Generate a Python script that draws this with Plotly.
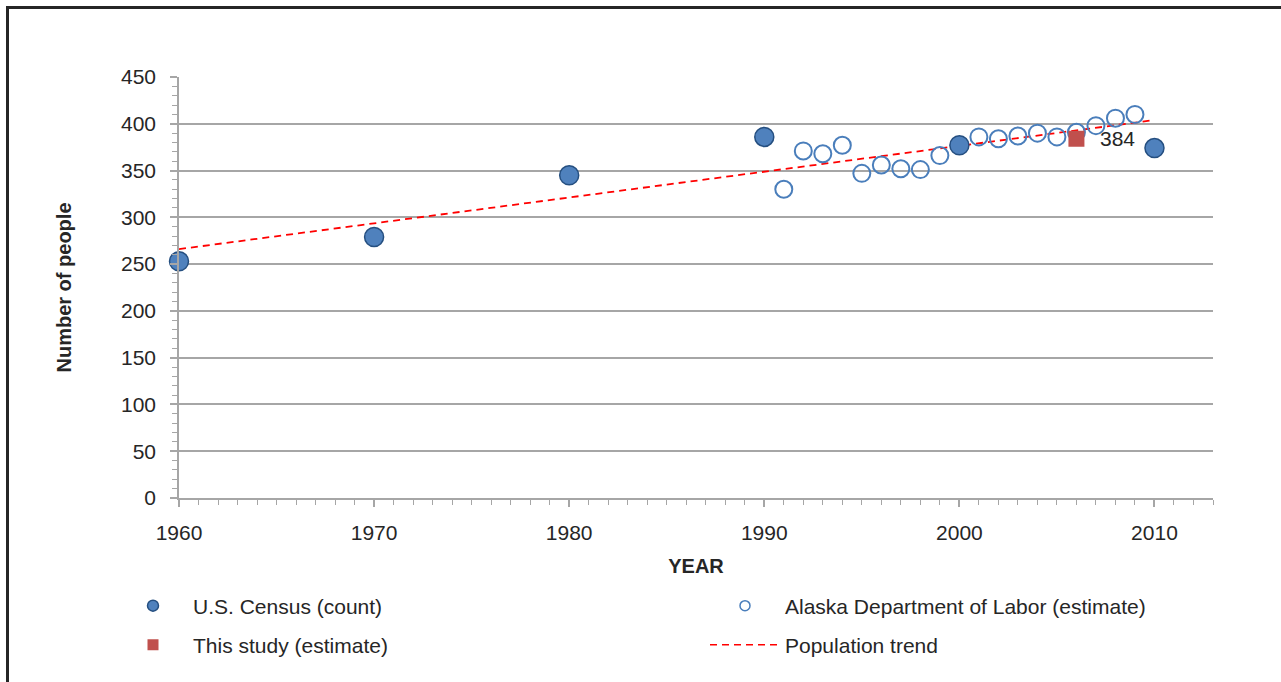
import plotly.graph_objects as go

# ---- data ----
census_years = [1960, 1970, 1980, 1990, 2000, 2010]
census_pop = [253, 279, 345, 386, 377, 374]

adol_years = [1991, 1992, 1993, 1994, 1995, 1996, 1997, 1998, 1999,
              2001, 2002, 2003, 2004, 2005, 2006, 2007, 2008, 2009]
adol_pop = [330, 371, 368, 377, 347, 356, 352, 351, 366,
            386, 384, 387, 390, 386, 391, 398, 406, 410]

study_years = [2006]
study_pop = [384]

trend_years = [1960, 2010]
trend_pop = [266, 404]

y_ticks = [0, 50, 100, 150, 200, 250, 300, 350, 400, 450]
x_ticks = [1960, 1970, 1980, 1990, 2000, 2010]

FONT = "Liberation Sans, Arial, sans-serif"
TXT = "#262626"
GRID = "#a6a6a6"
FS = 21

# plot-area geometry in pixels (for converting frame/legend positions)
L, R, T, B = 179, 1213, 77, 498
W, H = R - L, B - T
def px(x):
    return (x - L) / W
def py(y):
    return (B - y) / H

fig = go.Figure()

fig.add_trace(go.Scatter(
    x=trend_years, y=trend_pop, mode="lines",
    line=dict(color="#ff0000", width=1.8, dash="7px,5px"),
    showlegend=False, cliponaxis=False))

fig.add_trace(go.Scatter(
    x=adol_years, y=adol_pop, mode="markers",
    marker=dict(symbol="circle", size=17, color="rgba(255,255,255,0)",
                line=dict(color="#4a7ebb", width=2)),
    showlegend=False, cliponaxis=False))

fig.add_trace(go.Scatter(
    x=census_years, y=census_pop, mode="markers",
    marker=dict(symbol="circle", size=19, color="#4f81bd",
                line=dict(color="#254f80", width=1.5)),
    showlegend=False, cliponaxis=False))

fig.add_trace(go.Scatter(
    x=study_years, y=study_pop, mode="markers",
    marker=dict(symbol="square", size=16, color="#c0504d", line=dict(width=0)),
    showlegend=False, cliponaxis=False))

# legend-only entries (one legend per entry, laid out in a 2x2 grid)
fig.add_trace(go.Scatter(
    x=[None], y=[None], mode="markers", name="U.S. Census (count)",
    marker=dict(symbol="circle", size=11, color="#4f81bd",
                line=dict(color="#254f80", width=1.5)),
    legend="legend"))
fig.add_trace(go.Scatter(
    x=[None], y=[None], mode="markers", name="Alaska Department of Labor (estimate)",
    marker=dict(symbol="circle", size=10, color="white",
                line=dict(color="#4a7ebb", width=1.5)),
    legend="legend2"))
fig.add_trace(go.Scatter(
    x=[None], y=[None], mode="markers", name="This study (estimate)",
    marker=dict(symbol="square", size=11, color="#c0504d", line=dict(width=0)),
    legend="legend3"))
fig.add_trace(go.Scatter(
    x=[None], y=[None], mode="lines", name="Population trend",
    line=dict(color="#ff0000", width=1.5, dash="7px,5px"),
    legend="legend4"))

for yr, val in zip(study_years, study_pop):
    fig.add_annotation(x=yr, y=val, text=str(val), showarrow=False,
                       xanchor="left", yanchor="middle", xshift=22,
                       font=dict(family=FONT, size=FS, color=TXT))

# frame (left and top edges)
fig.add_shape(type="line", xref="paper", yref="paper",
              x0=px(7.5), x1=px(7.5), y0=py(6), y1=py(700),
              line=dict(color="#262626", width=3))
fig.add_shape(type="line", xref="paper", yref="paper",
              x0=px(6), x1=px(1300), y0=py(7.5), y1=py(7.5),
              line=dict(color="#262626", width=3))

leg_common = dict(orientation="h", font=dict(family=FONT, size=FS, color=TXT),
                  bgcolor="rgba(0,0,0,0)", itemwidth=70,
                  xanchor="left", yanchor="middle", itemclick=False)
C1, C2, R1, R2 = 113, 705, 606, 645
fig.update_layout(
    width=1281, height=682,
    margin=dict(l=L, r=1281 - R, t=T, b=682 - B, pad=0),
    paper_bgcolor="white", plot_bgcolor="white",
    font=dict(family=FONT, size=FS, color=TXT),
    showlegend=True,
    legend=dict(x=px(C1), y=py(R1), **leg_common),
    legend2=dict(x=px(C2), y=py(R1), **leg_common),
    legend3=dict(x=px(C1), y=py(R2), **leg_common),
    legend4=dict(x=px(C2), y=py(R2), **leg_common),
    xaxis=dict(
        range=[1960, 2013], tickvals=x_ticks, ticktext=[str(v) for v in x_ticks],
        showgrid=False, zeroline=False, showline=True, linecolor=GRID, linewidth=1.5,
        ticks="outside", ticklen=7, tickcolor=GRID, tickwidth=1.5,
        minor=dict(dtick=1, ticks="outside", ticklen=5, tickcolor=GRID, tickwidth=1.2, showgrid=False),
        tickfont=dict(family=FONT, size=FS, color=TXT), ticklabelstandoff=8,
        title=dict(text="<b>YEAR</b>", font=dict(family=FONT, size=20, color=TXT), standoff=16),
    ),
    yaxis=dict(
        range=[0, 450], tickvals=y_ticks,
        showgrid=True, gridcolor=GRID, gridwidth=1.5, zeroline=False,
        showline=True, linecolor=GRID, linewidth=1.5,
        ticks="outside", ticklen=7, tickcolor=GRID, tickwidth=1.5,
        minor=dict(dtick=10, tick0=0, ticks="outside", ticklen=5, tickcolor=GRID, tickwidth=1.2, showgrid=False),
        tickfont=dict(family=FONT, size=FS, color=TXT), ticklabelstandoff=10,
        title=dict(text="<b>Number of people</b>", font=dict(family=FONT, size=20, color=TXT), standoff=44),
    ),
)

fig.write_html("out.html", config={"displayModeBar": False},
               post_script="document.body.style.margin='0';")
